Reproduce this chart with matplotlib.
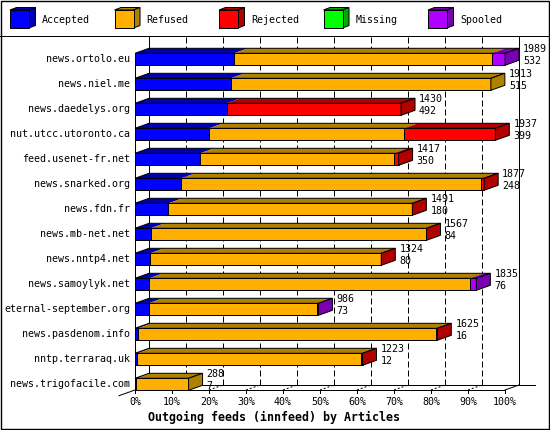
import matplotlib
matplotlib.use("Agg")
import matplotlib.pyplot as plt
from matplotlib.patches import Polygon, Rectangle
from matplotlib.lines import Line2D

# ---------------- data ----------------
servers = ['news.ortolo.eu', 'news.niel.me', 'news.daedelys.org', 'nut.utcc.utoronto.ca',
           'feed.usenet-fr.net', 'news.snarked.org', 'news.fdn.fr', 'news.mb-net.net',
           'news.nntp4.net', 'news.samoylyk.net', 'eternal-september.org',
           'news.pasdenom.info', 'nntp.terraraq.uk', 'news.trigofacile.com']
totals = [1989, 1913, 1430, 1937, 1417, 1877, 1491, 1567, 1324, 1835, 986, 1625, 1223, 288]
accepted = [532, 515, 492, 399, 350, 248, 180, 84, 80, 76, 73, 16, 12, 7]
refused = [1386, 1398, 0, 1048, 1040, 1613, 1307, 1479, 1240, 1725, 908, 1603, 1203, 281]
rejected = [0, 0, 938, 490, 27, 16, 4, 4, 4, 0, 0, 6, 8, 0]
missing = [0, 0, 0, 0, 0, 0, 0, 0, 0, 0, 0, 0, 0, 0]
spooled = [71, 0, 0, 0, 0, 0, 0, 0, 0, 34, 5, 0, 0, 0]
series_names = ['Accepted', 'Refused', 'Rejected', 'Missing', 'Spooled']
pct_ticks = [0, 10, 20, 30, 40, 50, 60, 70, 80, 90, 100]
title = 'Outgoing feeds (innfeed) by Articles'

front_colors = ['#0000ff', '#ffaf00', '#ff0000', '#00ff00', '#af00ff']
dark_colors = ['#0000b0', '#b08000', '#b00000', '#00a800', '#7800b0']

# ---------------- figure ----------------
W, H = 550, 430
fig = plt.figure(figsize=(W / 100, H / 100), dpi=100)
fig.patch.set_facecolor('white')
LW = 0.72
MONO = ['DejaVu Sans Mono']
FS = 7.2

# background pixel axes for legend / borders
bg = fig.add_axes([0, 0, 1, 1])
bg.set_xlim(0, W)
bg.set_ylim(H, 0)
bg.axis('off')
bg.add_patch(Rectangle((0.5, 0.5), W - 1.5, H - 1.5, fill=False, ec='black', lw=LW * 1.4))
bg.add_line(Line2D([0, W], [35.5, 35.5], color='black', lw=LW))

# legend cubes
for i, name in enumerate(series_names):
    x0 = 10 + i * 104.5
    y0, y1 = 10, 28
    w = 19
    ddx, ddy = 6.5, 2.5
    bg.add_patch(Polygon([(x0, y0), (x0 + w, y0), (x0 + w + ddx, y0 - ddy), (x0 + ddx, y0 - ddy)],
                         closed=True, fc=dark_colors[i], ec='black', lw=LW))
    bg.add_patch(Polygon([(x0 + w, y0), (x0 + w, y1), (x0 + w + ddx, y1 - ddy), (x0 + w + ddx, y0 - ddy)],
                         closed=True, fc=dark_colors[i], ec='black', lw=LW))
    bg.add_patch(Rectangle((x0, y0), w, y1 - y0, fc=front_colors[i], ec='black', lw=LW))
    bg.text(x0 + 32, 20, name, family=MONO, fontsize=FS, va='center', ha='left')

# main axes: x in percent, y in row units
ax = fig.add_axes([135 / W, (H - 390) / H, 370 / W, (390 - 37) / H])
ax.set_xlim(0, 100)
ax.set_ylim(13.228, -0.892)
ax.axis('off')

DX = 14 / 3.7
DY = 5 / 25.0
HALF = 0.24
Y_TOP = -0.892
Y_FLOOR_BACK = (385 - 59.3) / 25
Y_FLOOR_FRONT = (390 - 59.3) / 25

# back walls and gridlines
for p in pct_ticks:
    xb = p + DX
    if p in (0, 100):
        ax.add_line(Line2D([xb, xb], [Y_TOP, Y_FLOOR_BACK], color='black', lw=LW, clip_on=False, zorder=1))
    else:
        ax.add_line(Line2D([xb, xb], [Y_TOP, Y_FLOOR_BACK], color='black', lw=LW,
                           ls=(0, (6, 3)), clip_on=False, zorder=1))
        ax.add_line(Line2D([p, xb], [Y_FLOOR_FRONT, Y_FLOOR_BACK], color='black', lw=LW,
                           ls=(0, (2, 2)), clip_on=False, zorder=1))
    # small tick below front line
    ax.add_line(Line2D([p, p], [Y_FLOOR_FRONT, Y_FLOOR_FRONT + 0.13], color='black', lw=LW,
                       clip_on=False, zorder=1))
    ax.text(p, 13.70, f'{p}%', family=MONO, fontsize=FS, ha='center', va='center')

# floor lines
ax.add_line(Line2D([DX, 100 + DX + 16 / 3.7], [Y_FLOOR_BACK, Y_FLOOR_BACK], color='black', lw=LW,
                   clip_on=False, zorder=1))
ax.add_line(Line2D([0, 100], [Y_FLOOR_FRONT, Y_FLOOR_FRONT], color='black', lw=LW, clip_on=False, zorder=1))
ax.add_line(Line2D([-16 / 3.7, DX], [Y_FLOOR_FRONT + 5.7 / 25, Y_FLOOR_BACK], color='black', lw=LW,
                   clip_on=False, zorder=1))
ax.add_line(Line2D([100, 100 + DX], [Y_FLOOR_FRONT, Y_FLOOR_BACK], color='black', lw=LW,
                   clip_on=False, zorder=1))
# front axis
ax.add_line(Line2D([0, 0], [-HALF, Y_FLOOR_FRONT], color='black', lw=LW, clip_on=False, zorder=2))

vmax = max(totals)
series = [accepted, refused, rejected, missing, spooled]

for r, name in enumerate(servers):
    top = r - HALF
    left = 0.0
    last_dark = None
    for s in range(5):
        v = series[s][r]
        if v <= 0:
            continue
        w = v / vmax * 100
        ax.barh(r, w, left=left, height=2 * HALF, color=front_colors[s], edgecolor='black',
                linewidth=LW, zorder=4, clip_on=False)
        ax.add_patch(Polygon([(left, top), (left + w, top), (left + w + DX, top - DY), (left + DX, top - DY)],
                             closed=True, fc=dark_colors[s], ec='none', zorder=3, clip_on=False))
        left += w
        last_dark = dark_colors[s]
    end = left
    # top outline
    ax.add_patch(Polygon([(0, top), (end, top), (end + DX, top - DY), (DX, top - DY)],
                         closed=True, fill=False, ec='black', lw=LW, zorder=5, clip_on=False))
    # side face
    ax.add_patch(Polygon([(end, top), (end, r + HALF), (end + DX, r + HALF - DY), (end + DX, top - DY)],
                         closed=True, fc=last_dark, ec='black', lw=LW, zorder=5, clip_on=False))
    # labels
    ax.text(-5 / 3.7, r, name, family=MONO, fontsize=FS, ha='right', va='center')
    ax.text(end + DX + 4 / 3.7, r - 0.41, str(totals[r]), family=MONO, fontsize=FS, ha='left', va='center')
    ax.text(end + DX + 4 / 3.7, r + 0.07, str(accepted[r]), family=MONO, fontsize=FS, ha='left', va='center')

fig.text(274 / W, 1 - 417 / H, title, family=MONO, fontsize=8.4, fontweight='bold', ha='center', va='center')

fig.savefig('out.png', dpi=100)
